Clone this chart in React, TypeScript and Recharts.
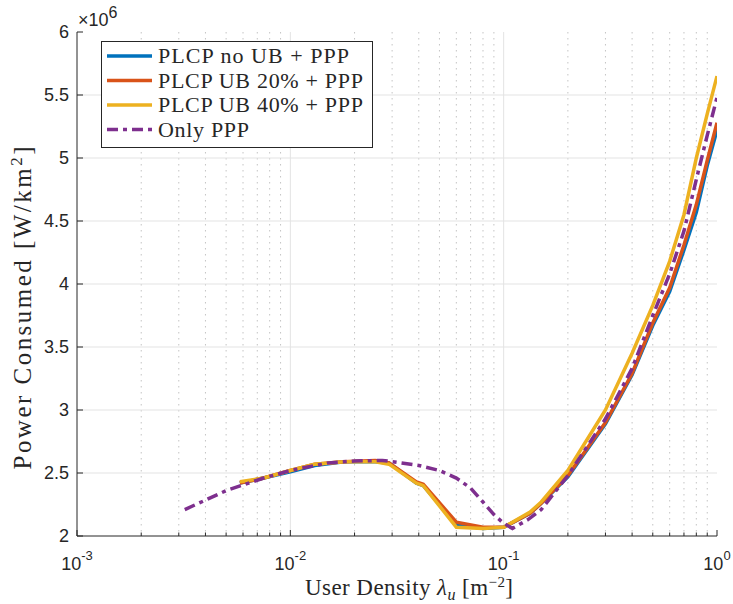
import { LineChart, Line, XAxis, YAxis, CartesianGrid } from 'recharts'

// sample densities (m^-2) for the PLCP runs and the PPP-only run
const plcpDensity = [0.0058, 0.0075, 0.01, 0.013, 0.0178, 0.025, 0.029, 0.039, 0.042, 0.06, 0.08, 0.1, 0.133, 0.15, 0.2, 0.3, 0.4, 0.5, 0.6, 0.7, 0.8, 0.9, 1.0]
const plcpNoUB = [2.42, 2.46, 2.51, 2.56, 2.59, 2.59, 2.58, 2.42, 2.40, 2.09, 2.06, 2.07, 2.18, 2.26, 2.47, 2.89, 3.28, 3.67, 3.94, 4.27, 4.57, 4.94, 5.22]
const plcpUB20 = [2.42, 2.46, 2.52, 2.57, 2.59, 2.60, 2.58, 2.43, 2.41, 2.11, 2.07, 2.07, 2.18, 2.26, 2.48, 2.90, 3.29, 3.69, 3.97, 4.31, 4.63, 4.98, 5.28]
const plcpUB40 = [2.43, 2.46, 2.52, 2.57, 2.59, 2.59, 2.57, 2.42, 2.40, 2.07, 2.06, 2.07, 2.19, 2.27, 2.52, 3.0, 3.45, 3.83, 4.18, 4.55, 5.0, 5.35, 5.65]

const pppDensity = [0.0032, 0.005, 0.0075, 0.01, 0.015, 0.02, 0.027, 0.03, 0.04, 0.05, 0.06, 0.07, 0.08, 0.09, 0.1, 0.11, 0.13, 0.15, 0.2, 0.3, 0.4, 0.5, 0.6, 0.7, 0.8, 0.9, 1.0]
const pppOnly = [2.21, 2.36, 2.46, 2.52, 2.58, 2.595, 2.6, 2.59, 2.56, 2.52, 2.46, 2.38, 2.27, 2.17, 2.10, 2.06, 2.13, 2.21, 2.48, 2.93, 3.33, 3.75, 4.08, 4.42, 4.83, 5.18, 5.48]

const xDecades = [0.001, 0.01, 0.1, 1]
const xTicks = [
  0.001, 0.002, 0.003, 0.004, 0.005, 0.006, 0.007, 0.008, 0.009,
  0.01, 0.02, 0.03, 0.04, 0.05, 0.06, 0.07, 0.08, 0.09,
  0.1, 0.2, 0.3, 0.4, 0.5, 0.6, 0.7, 0.8, 0.9, 1,
]
const xMinorGrid = xTicks.filter((t) => !xDecades.includes(t))
const yTicks = [2, 2.5, 3, 3.5, 4, 4.5, 5, 5.5, 6]

const seriesNames = ['PLCP no UB + PPP', 'PLCP UB 20% + PPP', 'PLCP UB 40% + PPP', 'Only PPP']
const COLORS = ['#0072BD', '#D95319', '#EDB120', '#7E2F8E']
const AXIS = '#262626'
const SANS = '"Liberation Sans", Arial, Helvetica, sans-serif'
const SERIF = '"Liberation Serif", "Times New Roman", serif'
const DASHDOT = '11 5 4 5'

const plcpData = plcpDensity.map((x, i) => ({ x, noUB: plcpNoUB[i], ub20: plcpUB20[i], ub40: plcpUB40[i] }))
const pppData = pppDensity.map((x, i) => ({ x, ppp: pppOnly[i] }))

const isDecade = (v: number) => xDecades.includes(v)

function BottomTick({ x, y, payload }: any) {
  const v = payload.value
  const major = isDecade(v)
  return (
    <g>
      <line x1={x} y1={y} x2={x} y2={y - (major ? 6 : 3.5)} stroke={AXIS} />
      {major && (
        <text x={x} y={y + 34} textAnchor="middle" fill={AXIS} fontFamily={SANS} fontSize={18}>
          <tspan>10</tspan>
          <tspan dy={-10} fontSize={13}>{Math.round(Math.log10(v))}</tspan>
        </text>
      )}
    </g>
  )
}

function TopTick({ x, y, payload }: any) {
  const major = isDecade(payload.value)
  return <line x1={x} y1={y} x2={x} y2={y + (major ? 6 : 3.5)} stroke={AXIS} />
}

function LeftTick({ x, y, payload }: any) {
  return (
    <g>
      <line x1={x} y1={y} x2={x + 6} y2={y} stroke={AXIS} />
      <text x={x - 8} y={y + 6} textAnchor="end" fill={AXIS} fontFamily={SANS} fontSize={18}>
        {payload.value}
      </text>
    </g>
  )
}

function RightTick({ x, y }: any) {
  return <line x1={x} y1={y} x2={x - 6} y2={y} stroke={AXIS} />
}

function YLabel() {
  return (
    <g>
      <text x={78} y={26} fill={AXIS} fontFamily={SANS} fontSize={18}>
        <tspan>×10</tspan>
        <tspan dy={-8} fontSize={16}>6</tspan>
      </text>
      <text
        x={31}
        y={308}
        transform="rotate(-90 31 308)"
        textAnchor="middle"
        fill={AXIS}
        fontFamily={SERIF}
        fontSize={25}
        textLength={323}
        lengthAdjust="spacing"
      >
        <tspan>Power Consumed [W/km</tspan>
        <tspan dy={-9} fontSize={17}>2</tspan>
        <tspan dy={9}>]</tspan>
      </text>
    </g>
  )
}

function XLabel() {
  return (
    <text
      x={409}
      y={595}
      textAnchor="middle"
      fill={AXIS}
      fontFamily={SERIF}
      fontSize={23}
      textLength={208}
      lengthAdjust="spacing"
    >
      <tspan>User Density </tspan>
      <tspan fontStyle="italic">λ</tspan>
      <tspan dy={5} fontSize={16} fontStyle="italic">u</tspan>
      <tspan dy={-5}> [m</tspan>
      <tspan dy={-8} fontSize={15}>−2</tspan>
      <tspan dy={8}>]</tspan>
    </text>
  )
}

const legendTextWidths = [191, 205, 205, 91]

function LegendBox() {
  return (
    <div
      style={{
        position: 'absolute',
        left: 101,
        top: 41,
        width: 270,
        height: 105,
        background: '#fff',
        border: `1px solid ${AXIS}`,
      }}
    >
      <svg width={270} height={105}>
        {seriesNames.map((name, i) => {
          const cy = 14 + i * 24.5
          return (
            <g key={name}>
              <line
                x1={5}
                x2={50}
                y1={cy}
                y2={cy}
                stroke={COLORS[i]}
                strokeWidth={3.5}
                strokeDasharray={i === 3 ? DASHDOT : undefined}
              />
              <text
                x={56}
                y={cy + 7}
                fill={AXIS}
                fontFamily={SERIF}
                fontSize={22}
                textLength={legendTextWidths[i]}
                lengthAdjust="spacing"
              >
                {name}
              </text>
            </g>
          )
        })}
      </svg>
    </div>
  )
}

export default function App() {
  return (
    <div style={{ position: 'absolute', left: 0, top: 0, width: 733, height: 604, background: '#fff' }}>
      <LineChart width={733} height={604} margin={{ top: 32, right: 16, bottom: 18, left: 17 }}>
        <CartesianGrid
          horizontal={false}
          verticalValues={xMinorGrid}
          stroke="#c4c4c4"
          strokeDasharray="1.5 4.5"
        />
        <CartesianGrid
          verticalValues={[0.01, 0.1]}
          horizontalValues={[2.5, 3, 3.5, 4, 4.5, 5, 5.5]}
          stroke="#e3e3e3"
        />
        <XAxis
          dataKey="x"
          type="number"
          scale="log"
          domain={[0.001, 1]}
          allowDataOverflow
          ticks={xTicks}
          interval={0}
          height={50}
          tickSize={0}
          tickMargin={0}
          tick={<BottomTick />}
          axisLine={{ stroke: AXIS }}
          label={<XLabel />}
        />
        <XAxis
          xAxisId="top"
          orientation="top"
          dataKey="x"
          type="number"
          scale="log"
          domain={[0.001, 1]}
          allowDataOverflow
          ticks={xTicks}
          interval={0}
          height={0}
          tickSize={0}
          tickMargin={0}
          tick={<TopTick />}
          axisLine={{ stroke: AXIS }}
        />
        <YAxis
          type="number"
          domain={[2, 6]}
          ticks={yTicks}
          interval={0}
          width={60}
          tickSize={0}
          tickMargin={0}
          tick={<LeftTick />}
          axisLine={{ stroke: AXIS }}
          label={<YLabel />}
        />
        <YAxis
          yAxisId="right"
          orientation="right"
          type="number"
          domain={[2, 6]}
          ticks={yTicks}
          interval={0}
          width={0}
          tickSize={0}
          tickMargin={0}
          tick={<RightTick />}
          axisLine={{ stroke: AXIS }}
        />
        <Line data={plcpData} dataKey="noUB" stroke={COLORS[0]} strokeWidth={3.5} dot={false} isAnimationActive={false} />
        <Line data={plcpData} dataKey="ub20" stroke={COLORS[1]} strokeWidth={3.5} dot={false} isAnimationActive={false} />
        <Line data={plcpData} dataKey="ub40" stroke={COLORS[2]} strokeWidth={3.5} dot={false} isAnimationActive={false} />
        <Line
          data={pppData}
          dataKey="ppp"
          stroke={COLORS[3]}
          strokeWidth={3.5}
          strokeDasharray={DASHDOT}
          dot={false}
          isAnimationActive={false}
        />
      </LineChart>
      <LegendBox />
    </div>
  )
}
